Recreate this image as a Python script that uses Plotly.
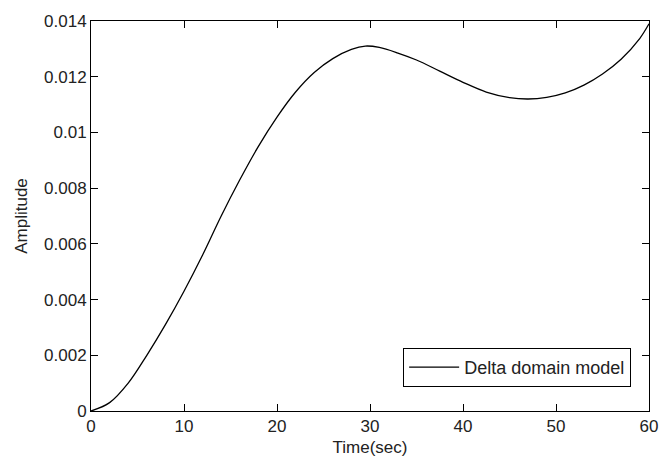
import plotly.graph_objects as go

# Data
time_sec = [0, 2, 4, 6, 8, 10, 12, 14, 16, 18, 20, 22, 24, 26, 28, 29.5, 31, 33, 35,
            37.5, 40, 42.5, 45, 47, 49, 51, 53, 55, 57, 59, 60]
amplitude = [0, 0.0003, 0.0010, 0.0020, 0.0031, 0.0043, 0.0056, 0.0070, 0.0083, 0.0095,
             0.01055, 0.01145, 0.01215, 0.01265, 0.01298, 0.01310, 0.01305, 0.01285,
             0.01260, 0.01220, 0.01180, 0.01145, 0.01125, 0.01120, 0.01126, 0.01142,
             0.01170, 0.01210, 0.01263, 0.01337, 0.01390]
x_ticks = [0, 10, 20, 30, 40, 50, 60]
y_ticks = [0, 0.002, 0.004, 0.006, 0.008, 0.01, 0.012, 0.014]
y_tick_text = ["0", "0.002", "0.004", "0.006", "0.008", "0.01", "0.012", "0.014"]

FONT = "Liberation Sans, Arial, sans-serif"
FS = 17

fig = go.Figure()
fig.add_trace(go.Scatter(
    x=time_sec, y=amplitude, mode="lines", name="Delta domain model",
    line=dict(color="black", width=1.3, shape="spline", smoothing=1.0),
))

axis_common = dict(
    showline=True, linecolor="black", linewidth=1, mirror="allticks",
    ticks="inside", ticklen=7, tickcolor="black", tickwidth=1,
    showgrid=False, zeroline=False, ticklabeloverflow="allow",
    tickfont=dict(family=FONT, size=FS, color="#222"),
)

fig.update_layout(
    width=666, height=465,
    margin=dict(l=91, r=8, t=21, b=54),
    paper_bgcolor="white", plot_bgcolor="white",
    font=dict(family=FONT, size=FS, color="#222"),
    xaxis=dict(range=[0, 60], tickvals=x_ticks,
               title=dict(text="Time(sec)", standoff=5, font=dict(family=FONT, size=FS)),
               **axis_common),
    yaxis=dict(range=[0, 0.014], tickvals=y_ticks, ticktext=y_tick_text,
               title=dict(text="Amplitude", standoff=12, font=dict(family=FONT, size=FS)),
               **axis_common),
    showlegend=True,
    legend=dict(x=0.968, y=0.0615, xanchor="right", yanchor="bottom",
                bgcolor="white", bordercolor="black", borderwidth=1,
                font=dict(family=FONT, size=18, color="#222"),
                itemwidth=50),
)

fig.write_html("out.html")
